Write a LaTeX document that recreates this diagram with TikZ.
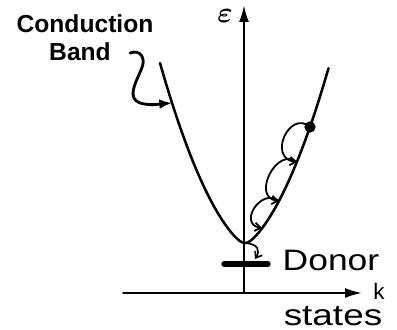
\documentclass[tikz,border=0pt]{standalone}
\usepackage{fontspec}
\setmainfont{Liberation Sans}
\usetikzlibrary{arrows.meta}

\begin{document}
\begin{tikzpicture}[x=0.025cm, y=-0.025cm, >=Latex, line cap=round,
    axis/.style={line width=1.4pt, -{Latex[length=12pt, width=7pt]}},
    hop/.style={line width=1.3pt, -{Straight Barb[length=4pt, width=6pt]}},
    hand/.style={inner sep=0pt, anchor=base}]
  \useasboundingbox (0,0) rectangle (397,330);

  \coordinate (O) at (244,293);
  \coordinate (E) at (244,5);
  \coordinate (K0) at (123,293);
  \coordinate (K) at (362,293);

  % band minimum and points on the branches
  \coordinate (V) at (245,243);
  \coordinate (L1) at (172,103);
  \coordinate (R1) at (310,127);
  \coordinate (R2) at (297,162);
  \coordinate (R3) at (279,201);
  \coordinate (R4) at (262,228);
  \coordinate (D) at (255,259);
  \coordinate (DL) at (224,264);
  \coordinate (DR) at (268,264);
  \coordinate (C0) at (130,53);

  \draw[axis] (O) -- (E);
  \draw[axis] (K0) -- (K);

  \draw[line width=1.8pt] plot[domain=-85:83.5, samples=90]
    (\x+245, {243-0.0157*\x*\x-0.84*(sqrt(\x*\x+36)-6)});

  % electron relaxing down the band
  \fill (R1) circle (4pt);
  \draw[hop] (R1) .. controls +(-20,-18) and +(-30,-4) .. (R2);
  \draw[hop] (R2) .. controls +(-20,-16) and +(-28,-4) .. (R3);
  \draw[hop] (R3) .. controls +(-18,-14) and +(-24,-4) .. (R4);
  \draw[line width=1.2pt, -{Straight Barb[length=4pt, width=6pt]}] (V) .. controls +(14,1) and +(5,-8) .. (D);

  \draw[line width=3.8pt] (DL) -- (DR);

  \draw[line width=2pt, -{Latex[length=9pt, width=7pt]}] (C0) .. controls (140,49) and (147,58) .. (141,70)
    .. controls (135,84) and (127,98) .. (140,103) .. controls (150,106) and (160,104) .. (L1);

  \node[hand, font=\fontsize{17.5}{20}\bfseries\selectfont] (cond) at (85,32) {Conduction};
  \node[hand, font=\fontsize{17.5}{20}\bfseries\selectfont] (band) at (80,60) {Band};
  \node[hand, font=\fontsize{21}{24}\selectfont] (donor) at (331,270) {\scalebox{1.2}[1]{Donor}};
  \node[hand, font=\fontsize{21}{24}\selectfont] (states) at (333,325) {\scalebox{1.25}[1]{states}};
  \node[hand, font=\fontsize{16}{18}\selectfont] (k) at (379,299) {k};
  \node[font=\fontsize{20}{22}\selectfont\boldmath, inner sep=0pt] (eps) at (225,16) {$\varepsilon$};
\end{tikzpicture}
\end{document}
